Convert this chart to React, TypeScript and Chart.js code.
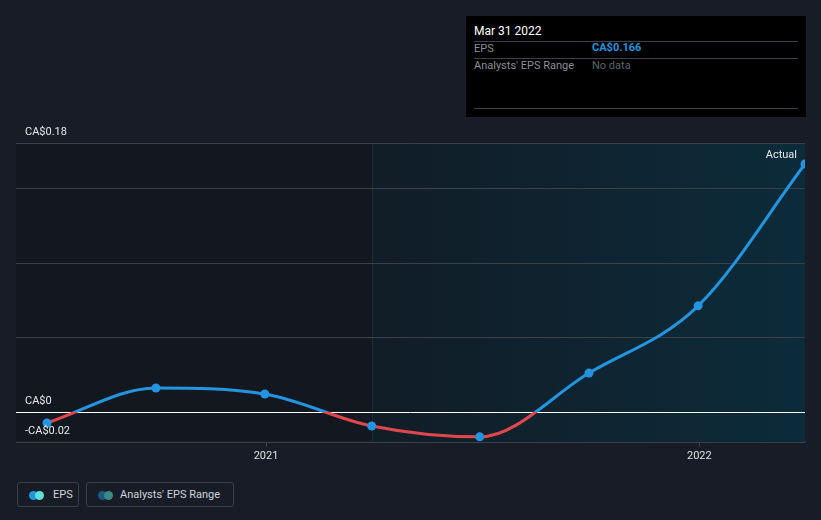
import React, { useEffect, useRef } from "react";
import { Chart, registerables } from "chart.js";

Chart.register(...registerables);

const dates = ["2020-06-30", "2020-09-30", "2020-12-31", "2021-03-31", "2021-06-30", "2021-09-30", "2021-12-31", "2022-03-31"];
const eps = [-0.0074, 0.016, 0.012, -0.0094, -0.0167, 0.026, 0.071, 0.166];
const xTickYears = [2021, 2022];
const yGridValues = [-0.02, 0, 0.05, 0.1, 0.15, 0.18];
const yLabelValues = [0.18, 0, -0.02];
const forecastStart = "2021-03-31";

function toYear(d: string): number {
  const [y, m, day] = d.split("-").map(Number);
  const start = Date.UTC(y, 0, 1);
  const end = Date.UTC(y + 1, 0, 1);
  const t = Date.UTC(y, m - 1, day);
  return y + (t - start) / (end - start);
}

function fmt(v: number): string {
  if (v === 0) return "CA$0";
  return (v < 0 ? "-" : "") + "CA$" + Math.abs(v).toFixed(2);
}

const BLUE = "#2394df";
const RED = "#e0474c";
const FONT = "Roboto, 'Open Sans', sans-serif";

export default function App() {
  const ref = useRef<HTMLCanvasElement | null>(null);

  useEffect(() => {
    document.body.style.margin = "0";
    const canvas = ref.current!;
    const xs = dates.map(toYear);
    const data = xs.map((x, i) => ({ x, y: eps[i] }));

    const bgPlugin = {
      id: "bgPlugin",
      beforeDatasetsDraw(chart: any) {
        const { ctx, chartArea: a, scales } = chart;
        const xS = scales.x;
        const yS = scales.y;
        ctx.save();
        ctx.fillStyle = "#13171f";
        ctx.fillRect(a.left, a.top, a.right - a.left, a.bottom - a.top);
        const fx = xS.getPixelForValue(toYear(forecastStart));
        const g = ctx.createLinearGradient(fx, 0, a.right, 0);
        g.addColorStop(0, "#111d27");
        g.addColorStop(1, "#0c2b3a");
        ctx.fillStyle = g;
        ctx.fillRect(fx, a.top, a.right - fx, a.bottom - a.top);
        ctx.strokeStyle = "#18303d";
        ctx.lineWidth = 1;
        ctx.beginPath();
        ctx.moveTo(Math.round(fx) + 0.5, a.top);
        ctx.lineTo(Math.round(fx) + 0.5, a.bottom);
        ctx.stroke();
        yGridValues.forEach((v) => {
          const py = Math.round(yS.getPixelForValue(v)) + 0.5;
          ctx.strokeStyle = v === 0 ? "#ffffff" : "#3a3f48";
          ctx.lineWidth = 1;
          ctx.beginPath();
          ctx.moveTo(a.left, py);
          ctx.lineTo(a.right, py);
          ctx.stroke();
        });
        ctx.restore();
      },
      afterDatasetsDraw(chart: any) {
        const { ctx, chartArea: a, scales } = chart;
        const yS = scales.y;
        ctx.save();
        ctx.font = "11px " + FONT;
        ctx.fillStyle = "#e8e8e8";
        ctx.textBaseline = "alphabetic";
        ctx.textAlign = "left";
        yLabelValues.forEach((v) => {
          const py = yS.getPixelForValue(v);
          ctx.fillText(fmt(v), 25, py - 8);
        });
        ctx.textAlign = "right";
        ctx.fillText("Actual", a.right - 8, 158);
        ctx.restore();
      },
    };

    const chart = new Chart(canvas, {
      type: "line",
      data: {
        datasets: [
          {
            label: "EPS",
            data,
            borderWidth: 3,
            cubicInterpolationMode: "monotone",
            pointRadius: 4.5,
            pointBackgroundColor: BLUE,
            pointBorderColor: BLUE,
            pointBorderWidth: 0,
            borderColor: (c: any) => {
              const ch = c.chart;
              const a = ch.chartArea;
              if (!a) return BLUE;
              const zy = ch.scales.y.getPixelForValue(0);
              const g = ch.ctx.createLinearGradient(0, a.top, 0, a.bottom);
              const s = Math.min(1, Math.max(0, (zy - a.top) / (a.bottom - a.top)));
              g.addColorStop(0, BLUE);
              g.addColorStop(s, BLUE);
              g.addColorStop(s, RED);
              g.addColorStop(1, RED);
              return g;
            },
            fill: false,
          } as any,
        ],
      },
      options: {
        animation: false,
        responsive: false,
        maintainAspectRatio: false,
        layout: { padding: { left: 16, right: 16, top: 143, bottom: 0 } },
        plugins: { legend: { display: false }, tooltip: { enabled: false } },
        scales: {
          x: {
            type: "linear",
            min: 2020.423,
            max: 2022.2438,
            afterBuildTicks: (s: any) => {
              s.ticks = xTickYears.map((v) => ({ value: v }));
            },
            ticks: {
              color: "#e0e0e0",
              font: { family: FONT, size: 11 },
              padding: 3,
              maxRotation: 0,
              callback: (v: any) => String(v),
            },
            grid: { drawOnChartArea: false, drawTicks: true, tickLength: 5, color: "#3a3f48" },
            border: { display: true, color: "#3a3f48" },
          },
          y: {
            display: false,
            min: -0.02,
            max: 0.18,
          },
        },
      } as any,
      plugins: [bgPlugin],
    });
    return () => chart.destroy();
  }, []);

  const lineStyle: React.CSSProperties = { position: "absolute", left: 8, right: 8, height: 1, background: "#3a3f48" };

  return (
    <div style={{ position: "relative", width: 821, height: 520, background: "#171c26", fontFamily: FONT, overflow: "hidden" }}>
      <canvas ref={ref} width={821} height={466} style={{ position: "absolute", left: 0, top: 0, width: 821, height: 466 }} />
      <div style={{ position: "absolute", left: 466, top: 16, width: 340, height: 101, background: "#000" }}>
        <div style={{ position: "absolute", left: 8, top: 8, fontSize: 12, color: "#ffffff" }}>Mar 31 2022</div>
        <div style={{ ...lineStyle, top: 25 }} />
        <div style={{ position: "absolute", left: 8, top: 26, fontSize: 11, color: "#8a8f98" }}>EPS</div>
        <div style={{ position: "absolute", left: 126, top: 25, fontSize: 11, fontWeight: "bold", color: BLUE }}>CA$0.166</div>
        <div style={{ ...lineStyle, top: 42 }} />
        <div style={{ position: "absolute", left: 8, top: 43, fontSize: 11, color: "#8a8f98" }}>Analysts' EPS Range</div>
        <div style={{ position: "absolute", left: 126, top: 43, fontSize: 11, color: "#5f646c" }}>No data</div>
        <div style={{ ...lineStyle, top: 92 }} />
      </div>
      <div style={{ position: "absolute", left: 17, top: 482, width: 62, height: 25, border: "1px solid #3a404a", borderRadius: 3, boxSizing: "border-box" }}>
        <span style={{ position: "absolute", left: 11, top: 8, width: 9, height: 9, borderRadius: 5, background: BLUE }} />
        <span style={{ position: "absolute", left: 17, top: 8, width: 9, height: 9, borderRadius: 5, background: "#5ee0d8" }} />
        <span style={{ position: "absolute", left: 35, top: 5, fontSize: 11, color: "#d0d3d8" }}>EPS</span>
      </div>
      <div style={{ position: "absolute", left: 86, top: 482, width: 148, height: 25, border: "1px solid #3a404a", borderRadius: 3, boxSizing: "border-box" }}>
        <span style={{ position: "absolute", left: 11, top: 8, width: 9, height: 9, borderRadius: 5, background: "#1d5a80" }} />
        <span style={{ position: "absolute", left: 17, top: 8, width: 9, height: 9, borderRadius: 5, background: "#3c8a86" }} />
        <span style={{ position: "absolute", left: 33, top: 5, fontSize: 11, color: "#d0d3d8" }}>Analysts' EPS Range</span>
      </div>
    </div>
  );
}
